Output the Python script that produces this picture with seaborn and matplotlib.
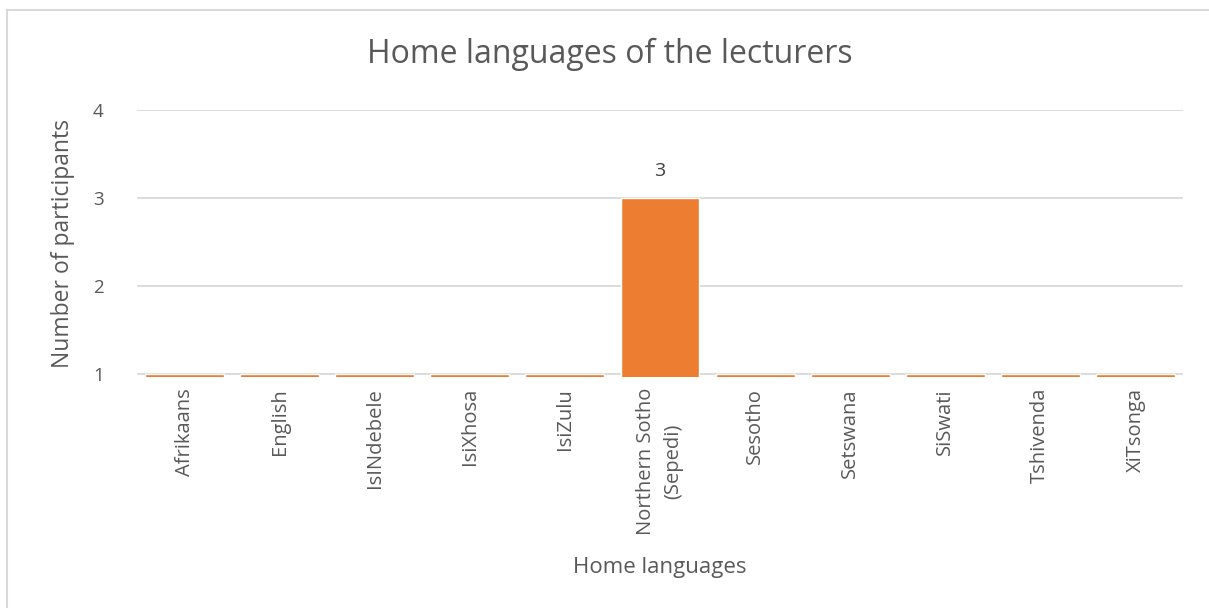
import matplotlib
matplotlib.use("Agg")
import matplotlib.pyplot as plt
import seaborn as sns
import pandas as pd
from matplotlib.lines import Line2D

languages = ["Afrikaans", "English", "IsINdebele", "IsiXhosa", "IsiZulu",
             "Northern Sotho\n(Sepedi)", "Sesotho", "Setswana", "SiSwati",
             "Tshivenda", "XiTsonga"]
participants = [1, 1, 1, 1, 1, 3, 1, 1, 1, 1, 1]
y_ticks = [1, 2, 3, 4]

sns.set_theme(style="white")
plt.rcParams['font.family'] = ['Open Sans', 'DejaVu Sans']
TXT = "#595959"

df = pd.DataFrame({"lang": languages, "n": participants})

fig = plt.figure(figsize=(12.09, 6.08), dpi=100)
ax = fig.add_axes([137/1209, 1-377/608, (1183-137)/1209, (377-110)/608])

sns.barplot(data=df, x="lang", y="n", color="#ED7D31", saturation=1,
            width=0.83, ax=ax, zorder=2)

ax.set_ylim(0.966, 4)
ax.set_yticks(y_ticks)
ax.set_yticklabels([str(t) for t in y_ticks])
ax.grid(axis="y", color="#D9D9D9", linewidth=1.3, zorder=0)
ax.set_axisbelow(True)
for s in ax.spines.values():
    s.set_visible(False)

ax.tick_params(axis="y", length=0, pad=24, labelsize=13.5, colors=TXT)
ax.tick_params(axis="x", length=0, pad=8, labelsize=14.5, colors=TXT)
ax.set_xticks(range(len(languages)))
ax.set_xticklabels(languages, rotation=90, va="top", ha="center",
                   multialignment="center", linespacing=1.5)

ax.set_xlabel("Home languages", fontsize=16, color=TXT, va="center")
ax.xaxis.set_label_coords(0.5, -0.712)
ax.set_ylabel("Number of participants", fontsize=16.5, color=TXT, va="center")
ax.yaxis.set_label_coords(-0.0707, 0.5)

# label only the visible bar
for p, v in zip(ax.patches, participants):
    if v > 1:
        ax.annotate(str(v), (p.get_x() + p.get_width()/2, v),
                    xytext=(0, 13), textcoords="offset points",
                    ha="center", va="bottom", fontsize=14, color="#404040")

fig.text(610/1209, 1-54/608, "Home languages of the lecturers",
         ha="center", va="center", fontsize=23, color=TXT)

# chart frame (top and left edges visible)
fig.add_artist(Line2D([6.5/1209, 1.0], [1-9.5/608]*2, color="#D9D9D9", lw=1.5,
                      transform=fig.transFigure))
fig.add_artist(Line2D([6.5/1209]*2, [0, 1-9.5/608], color="#D9D9D9", lw=1.5,
                      transform=fig.transFigure))

fig.savefig("out.png", dpi=100, facecolor="white")
